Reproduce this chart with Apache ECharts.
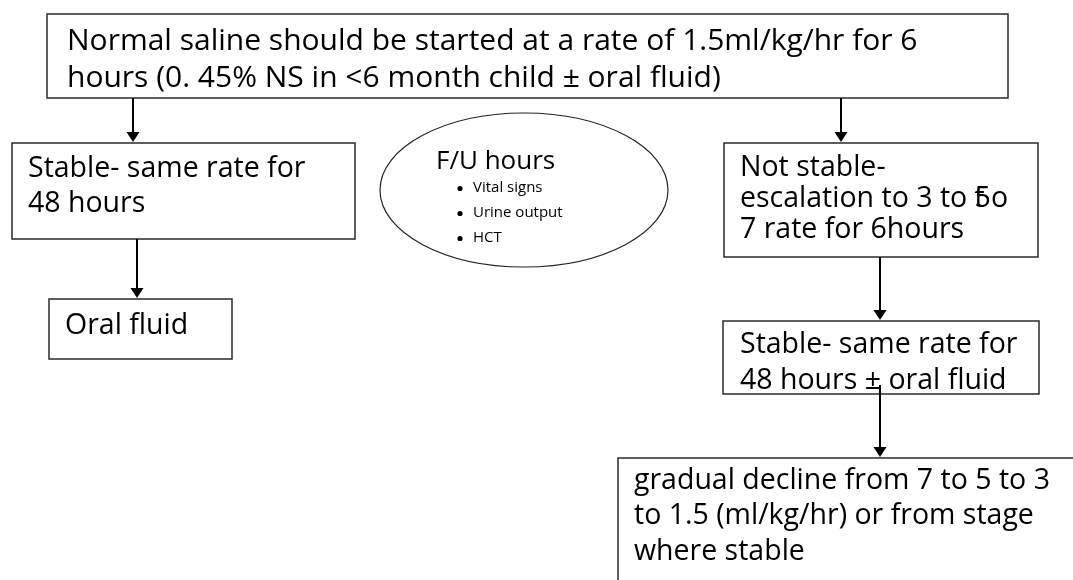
<!DOCTYPE html>
<html><head><meta charset="utf-8">
<script src="https://cdn.jsdelivr.net/npm/echarts@6/dist/echarts.min.js"></script>
<style>html,body{margin:0;padding:0;background:#fff}#c{width:1073px;height:580px}</style>
</head><body><div id="c"></div>
<script>
// ---------- content (text of the flowchart) ----------
const startLines = ['Normal saline should be started at a rate of 1.5ml/kg/hr for 6', 'hours (0. 45% NS in <6 month child \u00b1 oral fluid)'];
const stableLeftLines = ['Stable- same rate for', '48 hours'];
const oralLines = ['Oral fluid'];
// "\b" = next character overprinted on the previous one (as in the source picture)
const notStableLines = ['Not stable-', 'escalation to 3 to 5\bto', '7 rate for 6hours'];
const stableRightLines = ['Stable- same rate for', '48 hours \u00b1 oral fluid'];
const declineLines = ['gradual decline from 7 to 5 to 3', 'to 1.5 (ml/kg/hr) or from stage', 'where stable'];
const followUpTitle = ['F/U hours'];
const followUpItems = ['Vital signs', 'Urine output', 'HCT'];

// ---------- layout (in axis units; axes span the whole canvas) ----------
const FAMILY = '"Open Sans", sans-serif';
const FS_TITLE = 26, FS_SMALL = 15;
const boxLayout = [
  {lines: startLines,       rect: [47, 14, 1008, 98],  tx: 67,  base: 52,  lh: 37, fs: 30},
  {lines: stableLeftLines,  rect: [12, 143, 355, 239], tx: 28,  base: 179, lh: 35, fs: 28.5},
  {lines: oralLines,        rect: [49, 299, 232, 359], tx: 65,  base: 336, lh: 35, fs: 28.5},
  {lines: notStableLines,   rect: [724, 143, 1038, 257], tx: 740, base: 178, lh: 31, fs: 28.5},
  {lines: stableRightLines, rect: [723, 321, 1039, 394], tx: 740, base: 355, lh: 36, fs: 28.5},
  {lines: declineLines,     rect: [618, 458, 1095, 610], tx: 634, base: 491, lh: 35.5, fs: 28.5}
];
const arrowLayout = [[133, 98, 142], [841, 98, 142], [137, 239, 298], [880, 257, 320], [880, 385, 457]];
const ellipseLayout = {cx: 524, cy: 190, rx: 144, ry: 77, titleX: 436, titleBase: 171, bulletX: 460, itemX: 473, itemBase: 193, itemLh: 25};

const measureCtx = document.createElement('canvas').getContext('2d');
function textWidth(s, fs) { measureCtx.font = fs + 'px ' + FAMILY; return measureCtx.measureText(s).width; }

function textLine(str, x, baseline, fs) {
  // returns text elements positioned by pixel; handles "\b" overprint
  const els = [];
  const yMid = baseline - 0.36 * fs;
  const parts = str.split('\b');
  let cur = x;
  parts.forEach((part, k) => {
    if (k > 0) {
      const prev = parts[k - 1];
      const lastW = textWidth(prev.slice(-1), fs);
      const start = cur - lastW;
      const firstW = textWidth(part[0], fs);
      els.push({type: 'text', style: {text: part[0], x: start, y: yMid, fontSize: fs, fontFamily: FAMILY, fill: '#000', verticalAlign: 'middle', align: 'left'}});
      cur = start + Math.max(lastW, firstW);
      part = part.slice(1);
    }
    els.push({type: 'text', style: {text: part, x: cur, y: yMid, fontSize: fs, fontFamily: FAMILY, fill: '#000', verticalAlign: 'middle', align: 'left'}});
    cur += textWidth(part, fs);
  });
  return els;
}

const chart = echarts.init(document.getElementById('c'), null, {renderer: 'canvas'});
chart.setOption({
  animation: false,
  backgroundColor: '#fff',
  grid: {left: 0, right: 0, top: 0, bottom: 0},
  xAxis: {type: 'value', min: 0, max: 1073, show: false},
  yAxis: {type: 'value', min: 0, max: 580, inverse: true, show: false},
  series: [
    {
      type: 'custom', name: 'boxes', coordinateSystem: 'cartesian2d', clip: false,
      data: boxLayout.map((b, i) => [i, 0]),
      renderItem: function (params, api) {
        const b = boxLayout[params.dataIndex];
        const p0 = api.coord([b.rect[0], b.rect[1]]);
        const p1 = api.coord([b.rect[2], b.rect[3]]);
        const children = [{type: 'rect', shape: {x: p0[0], y: p0[1], width: p1[0] - p0[0], height: p1[1] - p0[1]},
          style: {fill: '#fff', stroke: '#2a2a2a', lineWidth: 1.5}}];
        b.lines.forEach((ln, j) => {
          const p = api.coord([b.tx, b.base + j * b.lh]);
          textLine(ln, p[0], p[1], b.fs).forEach(e => children.push(e));
        });
        return {type: 'group', children: children};
      }
    },
    {
      type: 'custom', name: 'arrows', coordinateSystem: 'cartesian2d', clip: false,
      data: arrowLayout.map((a, i) => [i, 0]),
      renderItem: function (params, api) {
        const a = arrowLayout[params.dataIndex];
        const s = api.coord([a[0], a[1]]);
        const t = api.coord([a[0], a[2]]);
        return {type: 'group', children: [
          {type: 'line', shape: {x1: s[0], y1: s[1], x2: t[0], y2: t[1] - 8}, style: {stroke: '#000', lineWidth: 2}},
          {type: 'polygon', shape: {points: [[t[0] - 6.5, t[1] - 10], [t[0] + 6.5, t[1] - 10], [t[0], t[1]]]}, style: {fill: '#000'}}
        ]};
      }
    },
    {
      type: 'custom', name: 'followup', coordinateSystem: 'cartesian2d', clip: false,
      data: [[0, 0]],
      renderItem: function (params, api) {
        const e = ellipseLayout;
        const c = api.coord([e.cx, e.cy]);
        const r = api.size([e.rx, e.ry]);
        const children = [{type: 'ellipse', shape: {cx: c[0], cy: c[1], rx: r[0], ry: r[1]}, style: {fill: '#fff', stroke: '#222', lineWidth: 1.2}}];
        const tp = api.coord([e.titleX, e.titleBase]);
        textLine(followUpTitle[0], tp[0], tp[1], FS_TITLE).forEach(x => children.push(x));
        followUpItems.forEach((it, j) => {
          const bp = api.coord([e.bulletX, e.itemBase + j * e.itemLh]);
          const ip = api.coord([e.itemX, e.itemBase + j * e.itemLh]);
          children.push({type: 'circle', shape: {cx: bp[0], cy: bp[1] - 4.5, r: 2.6}, style: {fill: '#000'}});
          textLine(it, ip[0], ip[1], FS_SMALL).forEach(x => children.push(x));
        });
        return {type: 'group', children: children};
      }
    }
  ]
});
</script>
</body></html>
